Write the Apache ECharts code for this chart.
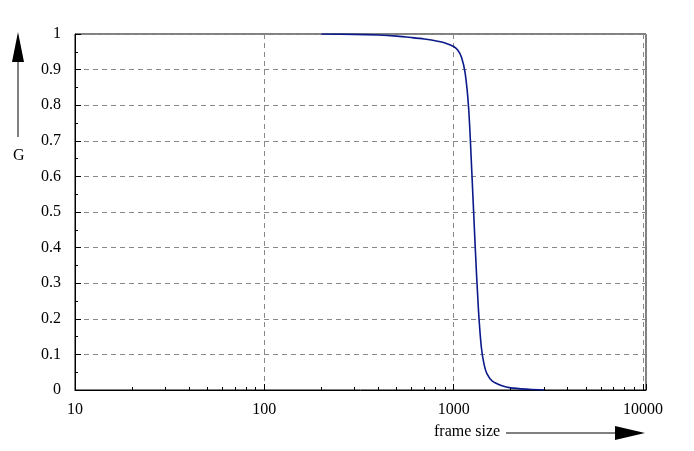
<!DOCTYPE html>
<html>
<head>
<meta charset="UTF-8">
<script src="https://cdn.jsdelivr.net/npm/echarts@6/dist/echarts.min.js"></script>
<style>body{margin:0;background:#fff}</style>
</head>
<body>
<div id="main" style="width:694px;height:451px;"></div>
<script>
// frame size vs G
var frameSize = [200, 300, 400, 500, 600, 700, 800, 900, 1000, 1050, 1100, 1150, 1200, 1250, 1300, 1350, 1400, 1450, 1500, 1600, 1800, 2000, 2500, 3000];
var gValues = [1.0, 0.999, 0.997, 0.994, 0.99, 0.986, 0.981, 0.975, 0.965, 0.955, 0.935, 0.89, 0.79, 0.6, 0.4, 0.23, 0.12, 0.07, 0.045, 0.025, 0.012, 0.006, 0.002, 0];
var yTicks = [0, 0.1, 0.2, 0.3, 0.4, 0.5, 0.6, 0.7, 0.8, 0.9, 1];

var font = 'Liberation Serif';
var myChart = echarts.init(document.getElementById('main'));
var option = {
    animation: false,
    textStyle: {fontFamily: font},
    grid: {left: 75, right: 48, top: 34, bottom: 61, show: true, borderColor: '#000', borderWidth: 1},
    xAxis: {
        type: 'log', logBase: 10, min: 10, max: 10370,
        axisLine: {lineStyle: {color: '#000'}},
        axisTick: {inside: true, length: 6, lineStyle: {color: '#000'}},
        minorTick: {show: true, splitNumber: 9, length: 3, lineStyle: {color: '#000'}},
        axisLabel: {color: '#000', fontSize: 16, fontFamily: font, margin: 12, showMinLabel: true,
            formatter: function (v) { return [10, 100, 1000, 10000].indexOf(Math.round(v)) >= 0 ? Math.round(v) : ''; }},
        splitLine: {show: true, lineStyle: {color: '#888', type: [5, 4]}}
    },
    yAxis: {
        type: 'value', min: 0, max: 1, interval: 0.1,
        axisLine: {lineStyle: {color: '#000'}},
        axisTick: {inside: true, length: 6, lineStyle: {color: '#000'}},
        minorTick: {show: true, splitNumber: 2, length: 3, lineStyle: {color: '#000'}},
        axisLabel: {color: '#000', fontSize: 16, fontFamily: font, margin: 14,
            formatter: function (v) { return yTicks.indexOf(Math.round(v * 10) / 10) >= 0 ? String(Math.round(v * 10) / 10) : ''; }},
        splitLine: {show: true, lineStyle: {color: '#888', type: [5, 4]}}
    },
    series: [{
        type: 'line', smooth: 0.3, showSymbol: false,
        data: frameSize.map(function (x, i) { return [x, gValues[i]]; }),
        lineStyle: {color: '#0a1a8a', width: 1.6}
    }],
    graphic: [
        {type: 'line', shape: {x1: 18, y1: 137, x2: 18, y2: 60}, style: {stroke: '#000', lineWidth: 1}},
        {type: 'polygon', shape: {points: [[18, 32], [12, 62], [24, 62]]}, style: {fill: '#000'}},
        {type: 'text', left: 13, top: 148, style: {text: 'G', font: '16px ' + font, fill: '#000'}},
        {type: 'text', left: 434, top: 424, style: {text: 'frame size', font: '16px ' + font, fill: '#000'}},
        {type: 'line', shape: {x1: 506, y1: 433, x2: 615, y2: 433}, style: {stroke: '#000', lineWidth: 1}},
        {type: 'polygon', shape: {points: [[645, 433], [615, 426], [615, 440]]}, style: {fill: '#000'}}
    ]
};
myChart.setOption(option);
</script>
</body>
</html>
